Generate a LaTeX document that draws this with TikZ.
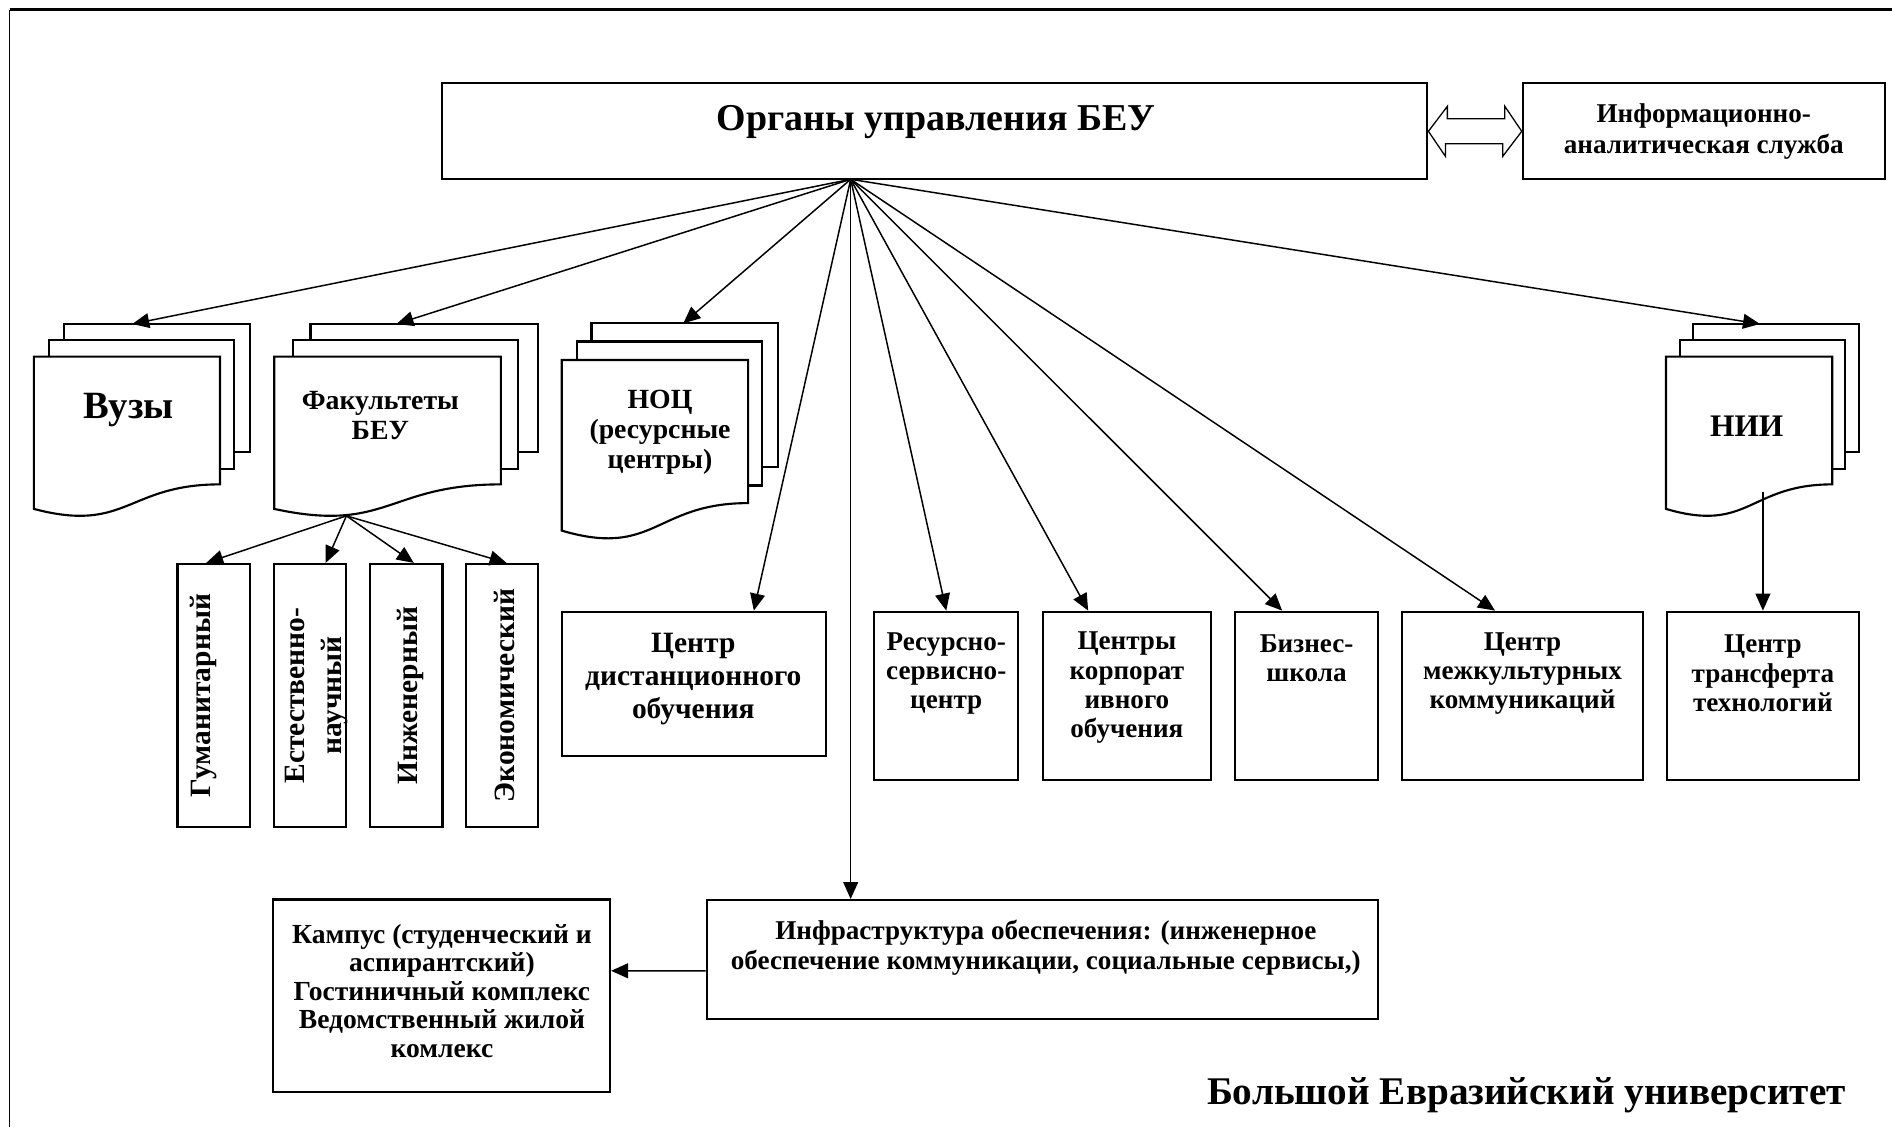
\documentclass[tikz,border=0pt]{standalone}
\usepackage{fontspec}
\setmainfont{Liberation Serif}
\usepackage{tikz}
\usetikzlibrary{positioning,arrows.meta,calc}

\newcommand{\ts}[2]{\fontsize{#1}{#2}\selectfont\bfseries}
\newcommand{\mdoc}[4]{%
\begin{scope}[shift={(#1,#2)},xscale=#3,yscale=#4]
\draw[sheet] (0.1376,0) rectangle (1,0.6663);
\draw[sheet] (0.0709,0.0840) rectangle (0.9259,0.7524);
\draw[sheet] (0,0.9621) .. controls (0.4305,1.0899) and (0.4305,0.8344) .. (0.8609,0.8344) -- (0.8609,0.1701) -- (0,0.1701) -- cycle;
\end{scope}}

\tikzset{
  box/.style={draw, line width=1pt, fill=white},
  sheet/.style={draw, line width=1pt, fill=white},
  txt/.style={align=center, font=\ts{12.8}{13.8}},
  vtxt/.style={align=center, rotate=90, font=\ts{13.9}{17.3}},
  arr/.style={line width=0.7pt, -{Triangle[length=8pt,width=7pt]}}
}

\begin{document}
\begin{tikzpicture}[x=0.02cm,y=-0.02cm]
\tikzstyle{every node}+=[inner sep=0pt]
\useasboundingbox (0,0) rectangle (1568,934);
\draw[line width=0.5pt] (8,934) -- (8,8);
\draw[line width=1.1pt] (8,8) -- (1568,8);

\node[box, minimum width=16.34cm, minimum height=1.592cm] (org) at (774.5,108.8) {};
\node[font=\ts{17.9}{20}] (org-t) at (776,101) {Органы управления БЕУ};
\node[box, minimum width=6cm, minimum height=1.592cm] (ias) at (1412,108.8) {};
\node[txt, font=\ts{12.8}{14.2}] (ias-t) at (1412,109) {Информационно-\\аналитическая служба};
\draw[line width=0.6pt] (org.east) -- ++(15.7,-20.7) -- ++(0,10.3) -- ++(47.6,0) -- ++(0,-10.3) -- (ias.west)
  -- ++(-15.7,20.7) -- ++(0,-10.3) -- ++(-47.6,0) -- ++(0,10.3) -- cycle;
\coordinate (hub) at (705,148.6);

\mdoc{28.1}{268.5}{179.1}{159.3}
\node[font=\ts{18.2}{20}] (vuz) at (106.6,340) {Вузы};
\coordinate (vuz-in) at (109.6,268.5);
\mdoc{227.3}{268.5}{218.2}{159.3}
\node[txt, font=\ts{13.1}{14.2}] (fak) at (315.2,344.5) {Факультеты\\БЕУ};
\coordinate (fak-in) at (328.6,268.5);
\coordinate (fak-out) at (287.1,427.5);
\mdoc{465.5}{268}{179.5}{178.5}
\node[txt, font=\ts{13.1}{14.2}] (noc) at (547,358.4) {НОЦ\\(ресурсные\\центры)};
\coordinate (noc-in) at (566.3,268);
\mdoc{1380.7}{268.5}{160}{159.3}
\node[font=\ts{14.8}{16}] (nii) at (1447.6,353.6) {НИИ};
\coordinate (nii-in) at (1458.6,268.5);
\coordinate (nii-out) at (1461,407.5);

\node[box, minimum width=1.2cm, minimum height=4.366cm] (hum) at (177.1,576.5) {};
\node[vtxt] (hum-t) at (168.5,576.5) {Гуманитарный};
\node[box, minimum width=1.2cm, minimum height=4.366cm] (nat) at (256.95,576.5) {};
\node[vtxt] (nat-t) at (262.5,576.5) {Естественно-\\научный};
\node[box, minimum width=1.2cm, minimum height=4.366cm] (eng) at (336.75,576.5) {};
\node[vtxt] (eng-t) at (339.8,576.5) {Инженерный};
\node[box, minimum width=1.2cm, minimum height=4.366cm] (eco) at (416.15,576.5) {};
\node[vtxt] (eco-t) at (418.5,576.5) {Экономический};

\node[box, minimum width=4.382cm, minimum height=2.394cm] (dist) at (575.05,566.75) {};
\node[txt, font=\ts{13.9}{15.4}] (dist-t) at (574.6,562.8) {Центр\\дистанционного\\обучения};
\node[box, minimum width=2.384cm, minimum height=2.79cm] (rsc) at (784.2,576.65) {};
\node[txt] (rsc-t) at (784.2,558) {Ресурсно-\\сервисно-\\центр};
\node[box, minimum width=2.792cm, minimum height=2.79cm] (corp) at (933.9,576.65) {};
\node[txt] (corp-t) at (933.9,570) {Центры\\корпорат\\ивного\\обучения};
\node[box, minimum width=2.37cm, minimum height=2.79cm] (biz) at (1082.75,576.65) {};
\node[txt] (biz-t) at (1082.8,545.8) {Бизнес-\\школа};
\node[box, minimum width=4cm, minimum height=2.79cm] (mkk) at (1261.8,576.65) {};
\node[txt] (mkk-t) at (1261.8,558) {Центр\\межкультурных\\коммуникаций};
\node[box, minimum width=3.188cm, minimum height=2.79cm] (trans) at (1461,576.65) {};
\node[txt] (trans-t) at (1461,558) {Центр\\трансферта\\технологий};

\node[box, minimum width=11.13cm, minimum height=1.978cm] (infra) at (863.75,795.35) {};
\node[txt, font=\ts{12.8}{14.1}] (infra-t) at (866.7,785.2) {Инфраструктура обеспечения: (инженерное\\обеспечение коммуникации, социальные сервисы,)};
\node[box, minimum width=5.588cm, minimum height=3.186cm] (kamp) at (365.9,825.05) {};
\node[txt, font=\ts{13}{13.4}] (kamp-t) at (366.3,821.2) {Кампус (студенческий и\\аспирантский)\\Гостиничный комплекс\\Ведомственный жилой\\комлекс};

\node[font=\ts{18.5}{20}] (beu) at (1265,907.5) {Большой Евразийский университет};

\draw[arr] (hub) -- (vuz-in);
\draw[arr] (hub) -- (fak-in);
\draw[arr] (hub) -- (noc-in);
\draw[arr] (hub) -- ($(dist.north west)!.725!(dist.north east)$);
\draw[arr] (hub) -- (hub |- infra.north);
\draw[arr] (hub) -- (rsc.north);
\draw[arr] (hub) -- ($(corp.north west)!.273!(corp.north east)$);
\draw[arr] (hub) -- ($(biz.north west)!.332!(biz.north east)$);
\draw[arr] (hub) -- ($(mkk.north west)!.387!(mkk.north east)$);
\draw[arr] (hub) -- (nii-in);
\draw[arr] (fak-out) -- ($(hum.north west)!.4!(hum.north east)$);
\draw[arr] (fak-out) -- ($(nat.north west)!.71!(nat.north east)$);
\draw[arr] (fak-out) -- ($(eng.north west)!.6!(eng.north east)$);
\draw[arr] (fak-out) -- ($(eco.north west)!.56!(eco.north east)$);
\draw[arr] (nii-out) -- (trans.north);
\draw[arr] ($(infra.west)+(0,9.2)$) -- ($(kamp.east)+(0,-20.5)$);
\end{tikzpicture}
\end{document}
